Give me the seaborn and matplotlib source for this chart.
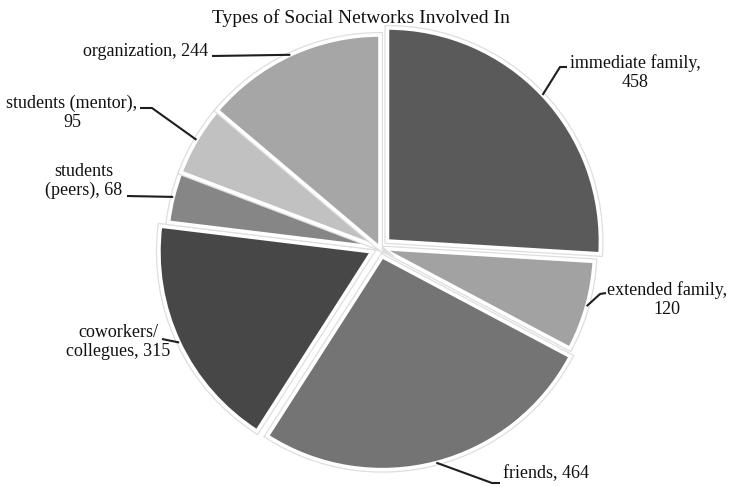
import numpy as np
import matplotlib
matplotlib.use("Agg")
import matplotlib.pyplot as plt
import matplotlib.patheffects as pe
import seaborn as sns

# Survey counts by network type (clockwise from 12 o'clock)
categories = ["immediate family", "extended family", "friends",
              "coworkers/\ncollegues", "students\n(peers)",
              "students (mentor)", "organization"]
counts = [458, 120, 464, 315, 68, 95, 244]
label_text = ["immediate family,\n458", "extended family,\n120", "friends, 464",
              "coworkers/\ncollegues, 315", "students\n(peers), 68",
              "students (mentor),\n95", "organization, 244"]
shades = ["#5a5a5a", "#a2a2a2", "#747474", "#474747", "#868686", "#c1c1c1", "#a6a6a6"]
pull_out = [0.048, 0.008, 0.042, 0.042, 0.0, 0.0, 0.0]   # fraction of the radius

sns.set_theme(style="white")
plt.rcParams["font.family"] = ["Liberation Serif", "DejaVu Serif"]

W, H = 729, 487
R = 213
fig = plt.figure(figsize=(W / 100, H / 100), dpi=100)
ax = fig.add_axes([0, 0, 1, 1])


def Y(y):
    """Convert a top-down pixel row into the axes' bottom-up coordinate."""
    return H - y


wedges, _ = ax.pie(
    counts, colors=shades, startangle=90, counterclock=False,
    explode=[f * R for f in pull_out], radius=R, center=(380, Y(248)),
    wedgeprops=dict(edgecolor="white", linewidth=2.6),
)
for w in wedges:
    w.set_path_effects([pe.Stroke(linewidth=4.4, foreground="#dedede"), pe.Normal()])

ax.set_xlim(0, W)
ax.set_ylim(0, H)
ax.set_aspect("equal")
ax.axis("off")

# label placement: text centre and the label-side end of the leader line
label_pos = [(635, 73), (667, 300), (546, 474), (118, 342), (84, 181), (72, 113), (146, 52)]
leader_end = [[(567, 67), (560, 67)], [(606, 293), (600, 294)], [(500, 483), (492, 483)],
              [(162, 339)], [(127, 196)], [(140, 108), (152, 108)], [(212, 56)]]

for w, txt, (tx, ty), ends in zip(wedges, label_text, label_pos, leader_end):
    mid = np.deg2rad((w.theta1 + w.theta2) / 2)
    cx, cy = w.center
    edge = (cx + w.r * np.cos(mid), cy + w.r * np.sin(mid))
    xs = [p[0] for p in ends] + [edge[0]]
    ys = [Y(p[1]) for p in ends] + [edge[1]]
    ax.plot(xs, ys, color="#1e1e1e", lw=1.5, solid_capstyle="butt", zorder=3)
    ax.text(tx, Y(ty), txt, ha="center", va="center", fontsize=13,
            color="#111111", linespacing=1.15)

ax.text(361, Y(18), "Types of Social Networks Involved In", ha="center", va="center",
        fontsize=14, color="#111111")

fig.savefig("out.png", dpi=100)
